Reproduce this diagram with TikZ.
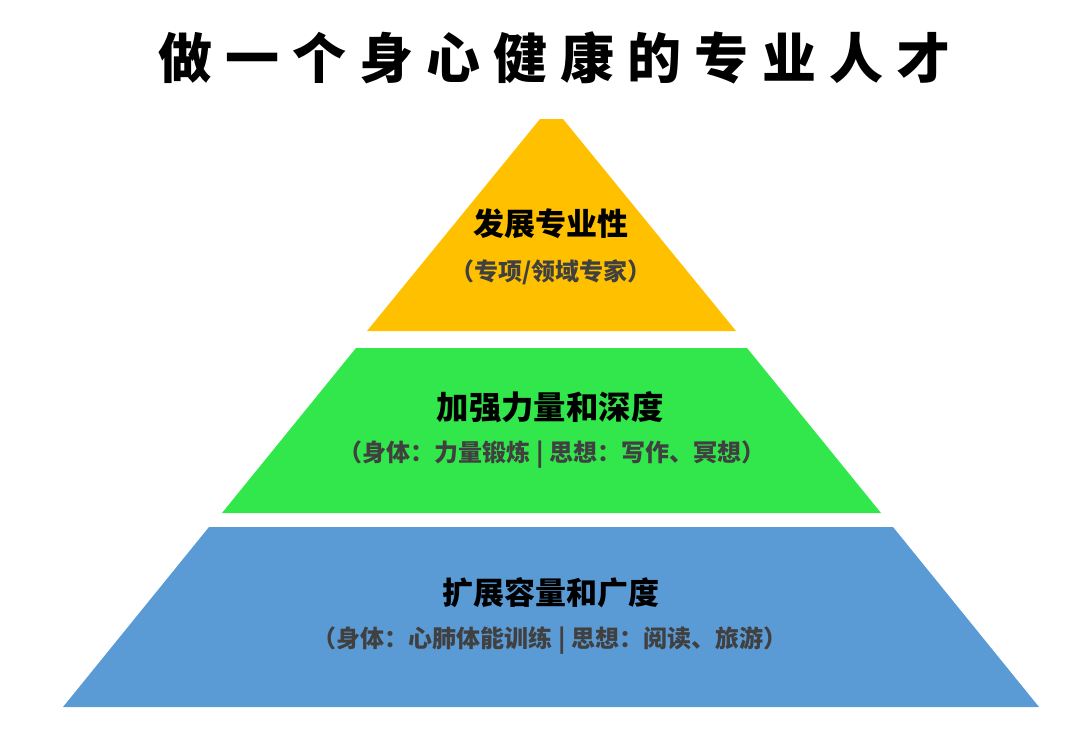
\documentclass[tikz,border=0pt]{standalone}
\usepackage{fontspec}
\setmainfont{Noto Sans CJK SC}
\newfontfamily\titlefont[LetterSpace=24.2]{Noto Sans CJK SC}
\definecolor{topyellow}{HTML}{FFC000}
\definecolor{midgreen}{HTML}{31E74B}
\definecolor{basblue}{HTML}{5B9BD5}
\definecolor{subgray}{HTML}{404040}
\tikzset{
  head/.style={inner sep=0pt, font=\bfseries\fontsize{15.5}{16}\selectfont, text=black},
  sub/.style={inner sep=0pt, font=\bfseries\fontsize{12}{13}\selectfont, text=subgray}
}
\begin{document}
\begin{tikzpicture}[x=0.5pt, y=-0.5pt, line join=round]
				\useasboundingbox (0, 0) rectangle (1080, 734);
				\fill[topyellow] (540, 119)--(563, 119)--(736, 331)--(367, 331)--cycle;
				\fill[midgreen] (356, 348)--(747, 348)--(881, 513)--(222, 513)--cycle;
				\fill[basblue] (209, 527)--(893, 527)--(1039, 707)--(63, 707)--cycle;
				\node[anchor=west, inner sep=0pt, font=\titlefont\bfseries\fontsize{27}{28}\selectfont] (title) at (158, 58) {做一个身心健康的专业人才};
				\node[head] (tophead) at (551, 224) {发展专业性};
				\node[sub] (topsub) at (551, 272) {（专项/领域专家）};
				\node[head, font=\bfseries\fontsize{16.2}{17}\selectfont] (midhead) at (550, 407) {加强力量和深度};
				\node[sub] (midsub) at (552, 455) {（身体：力量锻炼 | 思想：写作、冥想）};
				\node[head] (bashead) at (551, 593) {扩展容量和广度};
				\node[sub] (bassub) at (550, 640) {（身体：心肺体能训练 | 思想：阅读、旅游）};
			\end{tikzpicture}
\end{document}
